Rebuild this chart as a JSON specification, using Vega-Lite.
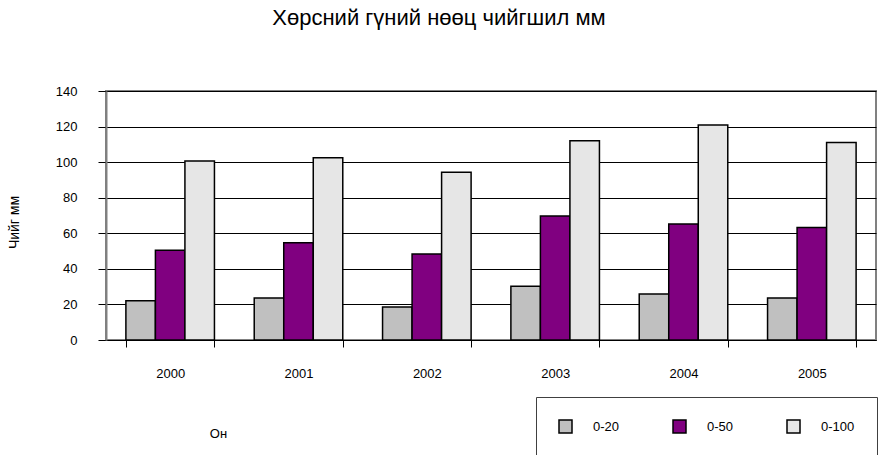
{
  "$schema": "https://vega.github.io/schema/vega-lite/v6.json",
  "autosize": "none",
  "width": 770,
  "height": 249,
  "padding": {"left": 106, "top": 91, "right": 6, "bottom": 115},
  "background": "white",
  "title": {
    "text": "Хөрсний гүний нөөц чийгшил мм",
    "font": "Liberation Sans",
    "fontSize": 22,
    "fontWeight": "normal",
    "color": "black",
    "anchor": "middle",
    "dx": -52,
    "offset": 55
  },
  "config": {
    "font": "Liberation Sans",
    "view": {"stroke": "#808080", "strokeWidth": 2}
  },
  "data": {
    "values": [
      {"year": "2000", "depth": "0-20", "value": 22},
      {"year": "2000", "depth": "0-50", "value": 50.5},
      {"year": "2000", "depth": "0-100", "value": 100.6},
      {"year": "2001", "depth": "0-20", "value": 23.6},
      {"year": "2001", "depth": "0-50", "value": 54.7},
      {"year": "2001", "depth": "0-100", "value": 102.5},
      {"year": "2002", "depth": "0-20", "value": 18.5},
      {"year": "2002", "depth": "0-50", "value": 48.3},
      {"year": "2002", "depth": "0-100", "value": 94.3},
      {"year": "2003", "depth": "0-20", "value": 30.2},
      {"year": "2003", "depth": "0-50", "value": 69.7},
      {"year": "2003", "depth": "0-100", "value": 112},
      {"year": "2004", "depth": "0-20", "value": 25.9},
      {"year": "2004", "depth": "0-50", "value": 65.2},
      {"year": "2004", "depth": "0-100", "value": 120.9},
      {"year": "2005", "depth": "0-20", "value": 23.6},
      {"year": "2005", "depth": "0-50", "value": 63.3},
      {"year": "2005", "depth": "0-100", "value": 111}
    ]
  },
  "mark": {"type": "bar", "stroke": "black", "strokeWidth": 1.5},
  "encoding": {
    "x": {
      "field": "year",
      "type": "nominal",
      "scale": {"paddingInner": 0.31, "paddingOuter": 0.155},
      "axis": {
        "title": "Он",
        "titleX": 112,
        "titleY": 93,
        "titleAlign": "center",
        "titleBaseline": "middle",
        "titleFontSize": 13,
        "titleFontWeight": "normal",
        "titleColor": "black",
        "labelAngle": 0,
        "labelFontSize": 13,
        "labelColor": "black",
        "labelPadding": 20,
        "tickBand": "extent",
        "tickSize": 7,
        "tickColor": "black",
        "domain": true,
        "domainColor": "black",
        "domainWidth": 1
      }
    },
    "xOffset": {"field": "depth", "type": "nominal", "sort": ["0-20", "0-50", "0-100"]},
    "y": {
      "field": "value",
      "type": "quantitative",
      "scale": {"domain": [0, 140], "nice": false},
      "axis": {
        "values": [0, 20, 40, 60, 80, 100, 120, 140],
        "title": "Чийг мм",
        "titleX": -92,
        "titleY": 131,
        "titleAngle": -90,
        "titleAlign": "center",
        "titleBaseline": "middle",
        "titleFontSize": 14,
        "titleFontWeight": "normal",
        "titleColor": "black",
        "labelFontSize": 13,
        "labelColor": "black",
        "labelPadding": 21,
        "tickSize": 8,
        "tickColor": "black",
        "grid": true,
        "gridColor": "black",
        "gridWidth": 1,
        "domainColor": "#808080",
        "domainWidth": 2
      }
    },
    "color": {
      "field": "depth",
      "type": "nominal",
      "sort": ["0-20", "0-50", "0-100"],
      "scale": {"domain": ["0-20", "0-50", "0-100"], "range": ["#C0C0C0", "#800080", "#E6E6E6"]},
      "legend": {
        "title": null,
        "orient": "none",
        "legendX": 430,
        "legendY": 306,
        "direction": "horizontal",
        "symbolType": "square",
        "symbolSize": 169,
        "symbolStrokeColor": "black",
        "symbolStrokeWidth": 1.5,
        "symbolOpacity": 1,
        "labelFontSize": 13,
        "labelColor": "black",
        "labelOffset": 20,
        "columnPadding": 50,
        "padding": 22,
        "strokeColor": "#404040",
        "fillColor": "white"
      }
    }
  }
}
